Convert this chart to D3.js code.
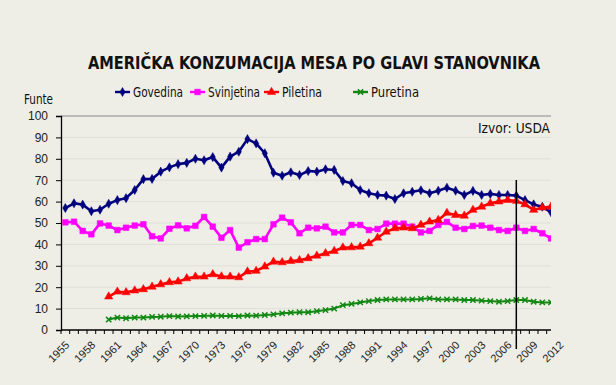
<!DOCTYPE html>
<html>
<head>
<meta charset="utf-8">
<script src="https://cdn.jsdelivr.net/npm/d3@7"></script>
<style>
  html, body { margin: 0; padding: 0; background: #eeede6; }
  svg { display: block; }
  .ylab, .xlab { font-family: "Liberation Sans", Arial, sans-serif; font-size: 12px; fill: #222; }
  .xlab { font-size: 11px; }
  .sans { font-family: "DejaVu Sans Condensed", "DejaVu Sans", sans-serif; fill: #111; }
</style>
</head>
<body>
<div id="chart"></div>
<script>
var firstYear = 1955;
var yTicks = [0, 10, 20, 30, 40, 50, 60, 70, 80, 90, 100];
var labelYears = [1955, 1958, 1961, 1964, 1967, 1970, 1973, 1976, 1979, 1982, 1985,
                  1988, 1991, 1994, 1997, 2000, 2003, 2006, 2009, 2012];
var markYear = 2007;

// 1955 - 2011
var govedina = [57.0, 59.2, 58.6, 55.5, 56.2, 59.0, 60.7, 61.6, 65.4, 70.5,
                70.6, 74.0, 76.0, 77.5, 78.1, 80.0, 79.3, 80.8, 75.9, 81.0,
                83.3, 89.2, 87.2, 82.6, 73.5, 72.1, 73.7, 72.4, 74.3, 74.0,
                75.1, 74.8, 69.6, 68.6, 65.4, 63.9, 63.1, 62.8, 61.2, 63.9,
                64.6, 65.3, 63.9, 65.1, 66.5, 65.1, 63.1, 65.0, 63.1, 63.6,
                63.1, 63.1, 62.8, 60.7, 58.7, 57.6, 55.0];
var svinjetina = [50.3, 50.6, 46.3, 44.7, 49.8, 48.8, 46.7, 47.8, 48.8, 49.4,
                  43.8, 42.8, 47.3, 48.9, 47.5, 48.7, 52.8, 48.3, 43.1, 46.7,
                  38.5, 41.0, 42.5, 42.5, 49.4, 52.5, 50.3, 45.2, 47.8, 47.5,
                  48.3, 45.6, 45.6, 49.1, 49.1, 46.7, 47.2, 49.7, 49.7, 49.7,
                  48.3, 45.6, 46.3, 49.1, 50.5, 47.8, 47.2, 48.6, 48.8, 47.8,
                  46.7, 46.3, 47.8, 46.3, 47.2, 45.2, 42.8];
var piletina = [null, null, null, null, null,
                15.6, 17.9, 17.6, 18.4, 19.0, 20.2, 21.3, 22.3, 22.6, 24.1,
                24.9, 24.9, 26.0, 25.0, 24.9, 24.6, 27.3, 27.6, 29.6, 31.9,
                31.6, 32.2, 32.6, 33.5, 34.7, 35.8, 36.9, 38.5, 38.6, 38.9,
                40.5, 43.1, 45.9, 47.5, 47.8, 47.5, 49.1, 50.6, 51.4, 54.7,
                53.7, 53.4, 56.1, 57.6, 59.2, 60.0, 60.7, 60.3, 58.7, 56.1,
                57.2, 57.6];
var puretina = [null, null, null, null, null,
                4.9, 5.8, 5.5, 5.8, 5.8, 6.1, 6.2, 6.5, 6.3, 6.4,
                6.5, 6.6, 6.8, 6.6, 6.6, 6.5, 6.8, 6.7, 7.0, 7.3,
                7.8, 8.1, 8.3, 8.3, 8.8, 9.3, 10.0, 11.6, 12.2, 12.9,
                13.5, 14.0, 14.3, 14.3, 14.3, 14.3, 14.5, 14.8, 14.3, 14.3,
                14.3, 14.0, 14.0, 13.7, 13.5, 13.2, 13.5, 14.0, 14.0, 13.2,
                12.9, 12.9];

var seriesNames = ['Govedina', 'Svinjetina', 'Piletina', 'Puretina'];
var seriesValues = [govedina, svinjetina, piletina, puretina];
var seriesColors = ['#00007f', '#ff00ff', '#ff0000', '#118811'];
var seriesSymbols = [d3.symbolDiamond, d3.symbolSquare, d3.symbolTriangle, d3.symbolX];
var symbolSizes = [24, 32, 30, 20];
var legendX = [115, 190, 264, 353];
var legendW = [50, 52, 40, 48];

var width = 616, height = 385;
var plot = {left: 61, right: 551, top: 116, bottom: 330};

var svg = d3.select('#chart').append('svg')
    .attr('width', width).attr('height', height);
svg.append('rect').attr('width', width).attr('height', height).attr('fill', '#eeede6');

var x = d3.scaleLinear().domain([firstYear - 0.5, 2011]).range([plot.left, plot.right]);
var y = d3.scaleLinear().domain([0, 100]).range([plot.bottom, plot.top]);

svg.append('defs').append('clipPath').attr('id', 'clip')
  .append('rect')
    .attr('x', plot.left).attr('y', plot.top - 10)
    .attr('width', plot.right - plot.left).attr('height', plot.bottom - plot.top + 20);

// gridlines
svg.append('g').selectAll('line').data(yTicks.filter(function(d) { return d > 0; }))
  .enter().append('line')
    .attr('x1', plot.left).attr('x2', plot.right)
    .attr('y1', function(d) { return y(d); }).attr('y2', function(d) { return y(d); })
    .attr('stroke', function(d) { return d === 100 ? '#8a8a8a' : '#e0dfd8'; })
    .attr('stroke-width', 1);

// y axis
var yAxis = d3.axisLeft(y).tickValues(yTicks).tickSize(5).tickPadding(8);
var gy = svg.append('g').attr('transform', 'translate(' + plot.left + ',0)').call(yAxis);
gy.select('.domain').attr('stroke', '#000').attr('stroke-width', 1.3);
gy.selectAll('.tick line').attr('stroke', '#000');
gy.selectAll('.tick text').attr('class', 'ylab').attr('font-family', null).attr('font-size', null);

// x axis
var yearTicks = d3.range(firstYear - 0.5, 2011.5, 1);
var gx = svg.append('g').attr('transform', 'translate(0,' + plot.bottom + ')');
gx.append('line').attr('x1', plot.left).attr('x2', plot.right)
  .attr('stroke', '#000').attr('stroke-width', 1.3);
gx.selectAll('.tk').data(yearTicks).enter().append('line')
    .attr('x1', function(d) { return x(d); }).attr('x2', function(d) { return x(d); })
    .attr('y1', 0).attr('y2', 4).attr('stroke', '#000');
gx.selectAll('.xlab').data(labelYears).enter().append('text')
    .attr('class', 'xlab')
    .attr('text-anchor', 'end')
    .attr('transform', function(d) { return 'translate(' + (x(d) + 2) + ',13) rotate(-45)'; })
    .attr('dy', '0.35em')
    .text(function(d) { return d; });

// series
var line = d3.line()
    .defined(function(d) { return d != null; })
    .x(function(d, i) { return x(firstYear + i); })
    .y(function(d) { return y(d); });

var plotG = svg.append('g').attr('clip-path', 'url(#clip)');
seriesValues.forEach(function(vals, k) {
  plotG.append('path')
      .attr('d', line(vals))
      .attr('fill', 'none')
      .attr('stroke', seriesColors[k])
      .attr('stroke-width', k === 3 ? 2 : 2.6)
      .attr('stroke-linejoin', 'round');
  var sym = d3.symbol().type(seriesSymbols[k]).size(symbolSizes[k]);
  plotG.selectAll('.m' + k).data(vals.map(function(v, i) { return {v: v, i: i}; })
      .filter(function(d) { return d.v != null; }))
    .enter().append('path')
      .attr('transform', function(d) { return 'translate(' + x(firstYear + d.i) + ',' + y(d.v) + ')'; })
      .attr('d', sym)
      .attr('fill', seriesColors[k])
      .attr('stroke', seriesColors[k])
      .attr('stroke-width', k === 3 ? 1.5 : 0.5);
});

// vertical marker line
svg.append('line')
    .attr('x1', x(markYear)).attr('x2', x(markYear))
    .attr('y1', 180).attr('y2', 349)
    .attr('stroke', '#000').attr('stroke-width', 1.5);

// title
svg.append('text').attr('class', 'sans')
    .attr('x', 88).attr('y', 69)
    .attr('font-size', 18).attr('font-weight', 'bold')
    .attr('textLength', 452).attr('lengthAdjust', 'spacingAndGlyphs')
    .text('AMERIČKA KONZUMACIJA MESA PO GLAVI STANOVNIKA');

// legend
var legend = svg.append('g');
seriesNames.forEach(function(name, k) {
  var lx = legendX[k], ly = 92;
  legend.append('line').attr('x1', lx).attr('x2', lx + 15).attr('y1', ly).attr('y2', ly)
      .attr('stroke', seriesColors[k]).attr('stroke-width', 2.4);
  legend.append('path')
      .attr('transform', 'translate(' + (lx + 7.5) + ',' + ly + ')')
      .attr('d', d3.symbol().type(seriesSymbols[k]).size(symbolSizes[k])())
      .attr('fill', seriesColors[k]).attr('stroke', seriesColors[k])
      .attr('stroke-width', k === 3 ? 1.5 : 0.5);
  legend.append('text').attr('class', 'sans')
      .attr('x', lx + 18).attr('y', ly + 5)
      .attr('font-size', 13.5)
      .attr('textLength', legendW[k]).attr('lengthAdjust', 'spacingAndGlyphs')
      .text(name);
});

svg.append('text').attr('class', 'sans')
    .attr('x', 24).attr('y', 104).attr('font-size', 13.5)
    .attr('textLength', 29).attr('lengthAdjust', 'spacingAndGlyphs').text('Funte');

svg.append('text').attr('class', 'sans')
    .attr('x', 478).attr('y', 133)
    .attr('font-size', 14)
    .attr('textLength', 72).attr('lengthAdjust', 'spacingAndGlyphs').text('Izvor: USDA');
</script>
</body>
</html>
